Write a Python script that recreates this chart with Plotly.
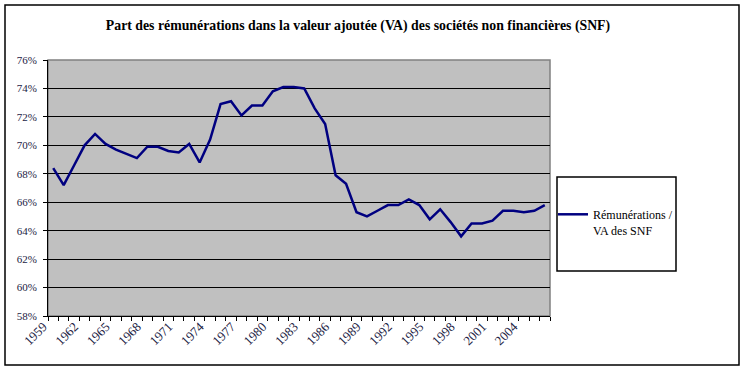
import plotly.graph_objects as go

years = list(range(1959, 2007))
share = [68.4, 67.2, 68.6, 70.0, 70.8, 70.1, 69.7, 69.4, 69.1, 69.9,
         69.9, 69.6, 69.5, 70.1, 68.8, 70.4, 72.9, 73.1, 72.1, 72.8,
         72.8, 73.8, 74.1, 74.1, 74.0, 72.6, 71.5, 67.9, 67.3, 65.3,
         65.0, 65.4, 65.8, 65.8, 66.2, 65.8, 64.8, 65.5, 64.6, 63.6,
         64.5, 64.5, 64.7, 65.4, 65.4, 65.3, 65.4, 65.8]
label_years = list(range(1959, 2005, 3))
y_ticks = list(range(58, 77, 2))

title_text = "Part des rémunérations dans la valeur ajoutée (VA) des sociétés non financières (SNF)"
series_name = "Rémunérations /<br>VA des SNF"

W, H = 745, 370
L, R, T, B = 48, 550, 60, 316
pw, ph = R - L, B - T

def px(x):
    return (x - L) / pw

def py(y):
    return (B - y) / ph

fig = go.Figure()
fig.add_trace(go.Scatter(
    x=years, y=share, mode="lines", name=series_name,
    line=dict(color="#000080", width=2.5),
))

serif = "Liberation Serif, Times New Roman, serif"
boundaries = [y - 0.5 for y in years] + [years[-1] + 0.5]

fig.update_layout(
    width=W, height=H,
    margin=dict(l=L, r=W - R, t=T, b=H - B),
    paper_bgcolor="white",
    plot_bgcolor="#C0C0C0",
    font=dict(family=serif, size=11, color="black"),
    title=dict(text="<b>" + title_text + "</b>", x=358 / W, xanchor="center",
               y=1 - 25 / H, yanchor="middle",
               font=dict(family=serif, size=13.8, color="black")),
    showlegend=True,
    legend=dict(x=px(553), xanchor="left", y=py(200), yanchor="top",
                bgcolor="rgba(0,0,0,0)", borderwidth=0, valign="top",
                font=dict(family=serif, size=12, color="black")),
    xaxis=dict(
        range=[years[0] - 0.5, years[-1] + 0.5],
        tickmode="array", tickvals=label_years, ticktext=[str(y) for y in label_years],
        ticks="", tickangle=-45, showgrid=False, zeroline=False,
        showline=True, linecolor="black", linewidth=1,
        ticklabelshift=-10, ticklabelstandoff=-3,
        tickfont=dict(family=serif, size=13, color="#222244"),
        minor=dict(tickmode="array", tickvals=boundaries, ticks="outside",
                   ticklen=4, tickcolor="black", tickwidth=1, showgrid=False),
    ),
    yaxis=dict(
        range=[58, 76], tickmode="array", tickvals=y_ticks,
        ticktext=[f"{v}%" for v in y_ticks],
        ticks="outside", ticklen=4, tickcolor="black",
        ticklabelstandoff=4,
        showgrid=True, gridcolor="black", gridwidth=1, zeroline=False,
        showline=True, linecolor="black", linewidth=1,
        tickfont=dict(family=serif, size=11, color="#222244"),
    ),
    shapes=[
        dict(type="rect", xref="paper", yref="paper", x0=0, x1=1, y0=0, y1=1,
             line=dict(color="#808080", width=1.5), layer="below"),
        dict(type="rect", xref="paper", yref="paper",
             x0=px(5), x1=px(739), y0=py(365), y1=py(5),
             line=dict(color="black", width=1.5)),
        dict(type="rect", xref="paper", yref="paper",
             x0=px(557), x1=px(676), y0=py(271), y1=py(177),
             line=dict(color="black", width=1.5)),
    ],
)

fig.write_html("out.html", config={"displayModeBar": False},
               post_script="document.body.style.margin='0';document.body.style.overflow='hidden';")
